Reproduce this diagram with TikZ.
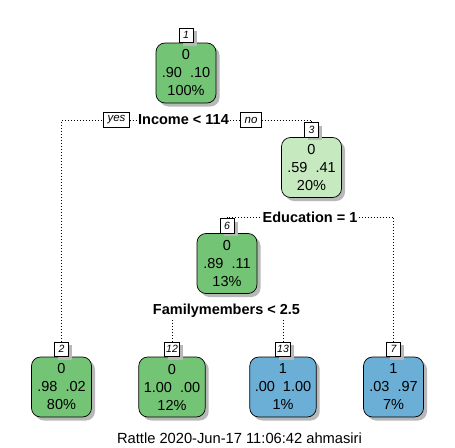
\documentclass[tikz,border=0pt]{standalone}
\usepackage{fontspec}
\setmainfont{Liberation Sans}
\usetikzlibrary{shadows}
\definecolor{dgreen}{HTML}{74C476}
\definecolor{lgreen}{HTML}{C7E9C0}
\definecolor{lblue}{HTML}{6BAED6}
\tikzset{
  shad/.style={drop shadow={shadow xshift=3.5pt, shadow yshift=-3.5pt, fill=black!28, opacity=1}},
  tn/.style={draw=black, line width=0.7pt, rounded corners=9pt, minimum width=60pt,
    minimum height=60pt, inner xsep=5pt, align=center, shad,
    font=\fontsize{14.5}{18}\selectfont},
  dg/.style={tn, fill=dgreen},
  lg/.style={tn, fill=lgreen},
  bl/.style={tn, fill=lblue},
  num/.style={draw=black, fill=white, line width=0.6pt, anchor=south, inner sep=1.5pt,
    minimum width=14pt, minimum height=14.5pt, shad,
    font=\fontsize{10.5}{10.5}\selectfont\itshape},
  yn/.style={draw=black, fill=white, line width=0.6pt, inner xsep=4pt, inner ysep=1pt,
    minimum height=14.5pt, font=\fontsize{11.5}{11.5}\selectfont\itshape},
  splitlab/.style={inner sep=1pt, font=\fontsize{14.5}{16}\selectfont\bfseries},
  conn/.style={line width=0.8pt, dash pattern=on 0.8pt off 2.2pt},
}
\begin{document}
\begin{tikzpicture}[x=1pt,y=-1pt]
\useasboundingbox (0,0) rectangle (455,447);
% tree nodes
\node[dg] (n1) at (186,73) {0\\.90\ \ .10\\100\%};
\node[lg] (n3) at (311.5,167.5) {0\\.59\ \ .41\\20\%};
\node[dg] (n6) at (227,263.5) {0\\.89\ \ .11\\13\%};
\node[dg] (n2) at (61.5,387) {0\\.98\ \ .02\\80\%};
\node[dg] (n12) at (172,387) {0\\1.00\ \ .00\\12\%};
\node[bl] (n13) at (283,387) {1\\.00\ \ 1.00\\1\%};
\node[bl] (n7) at (393.5,387) {1\\.03\ \ .97\\7\%};
% number labels
\node[num] (l1) at (n1.north) {1};
\node[num] (l3) at (n3.north) {3};
\node[num] (l6) at (n6.north) {6};
\node[num] (l2) at (n2.north) {2};
\node[num] (l12) at (n12.north) {12};
\node[num] (l13) at (n13.north) {13};
\node[num] (l7) at (n7.north) {7};
% split labels
\node[splitlab] (s1) at (183.5,120) {Income < 114};
\node[yn] (yes) at (116.5,120) {yes};
\node[yn] (no) at (251,120) {no};
\node[splitlab] (s3) at (310,217) {Education = 1};
\node[splitlab] (s6) at (226.5,311) {Familymembers < 2.5};
% connectors
\draw[conn] (l2.north) |- (yes.west);
\draw[conn] (yes.east) -- (s1.west);
\draw[conn] (s1.east) -- (no.west);
\draw[conn] (no.east) -| (l3.north);
\draw[conn] (l6.north) |- (s3.west);
\draw[conn] (s3.east) -| (l7.north);
\draw[conn] (l12.north) -- (l12.north |- s6.south);
\draw[conn] (l13.north) -- (l13.north |- s6.south);
% footer
\node[font=\fontsize{14.7}{16}\selectfont] (foot) at (239.5,438) {Rattle 2020-Jun-17 11:06:42 ahmasiri};
\end{tikzpicture}
\end{document}
